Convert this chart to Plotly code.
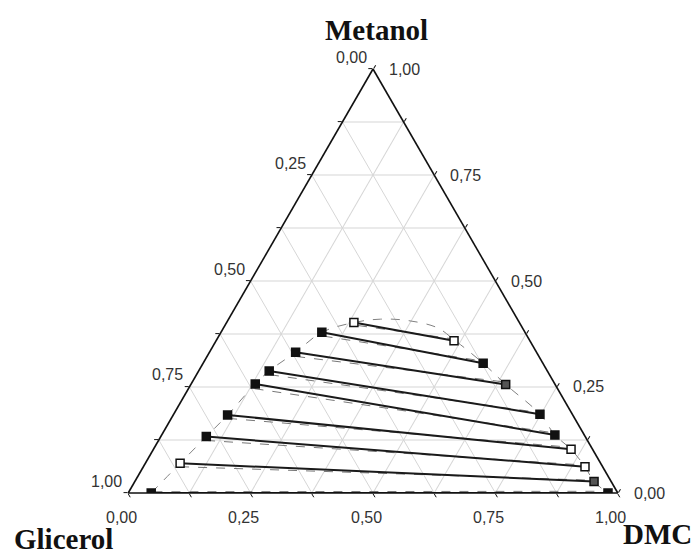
import plotly.graph_objects as go

# Experimental tie lines (mass fractions): Metanol, DMC (Glicerol = 1 - Metanol - DMC)
left_metanol = [0.000, 0.070, 0.133, 0.184, 0.257, 0.288, 0.332, 0.379, 0.402]
left_dmc = [0.047, 0.071, 0.093, 0.111, 0.131, 0.144, 0.176, 0.206, 0.260]
right_metanol = [0.000, 0.027, 0.062, 0.103, 0.137, 0.186, 0.256, 0.306, 0.359]
right_dmc = [0.980, 0.938, 0.902, 0.853, 0.803, 0.748, 0.643, 0.572, 0.486]
left_fill = ["f", "o", "f", "f", "f", "f", "f", "f", "o"]
right_fill = ["f", "h", "o", "o", "f", "f", "h", "f", "o"]

# Calculated tie lines (dashed)
calc_left_metanol = [0.003, 0.062, 0.124, 0.176, 0.246, 0.279, 0.322, 0.370, 0.395]
calc_left_dmc = [0.050, 0.075, 0.097, 0.116, 0.135, 0.150, 0.182, 0.214, 0.272]
calc_right_metanol = [0.004, 0.030, 0.066, 0.108, 0.142, 0.190, 0.262, 0.312, 0.364]
calc_right_dmc = [0.975, 0.935, 0.897, 0.848, 0.797, 0.742, 0.636, 0.563, 0.478]

# Binodal curve (dashed)
bin_metanol = [0.000, 0.070, 0.133, 0.184, 0.257, 0.288, 0.332, 0.379, 0.402, 0.410,
               0.407, 0.390, 0.362, 0.306, 0.256, 0.186, 0.137, 0.103, 0.062, 0.027, 0.000]
bin_dmc = [0.047, 0.071, 0.093, 0.111, 0.131, 0.144, 0.176, 0.206, 0.260, 0.310,
           0.366, 0.436, 0.484, 0.572, 0.643, 0.748, 0.803, 0.853, 0.902, 0.938, 0.980]

# Axis ticks
tick_vals = [0, 0.125, 0.25, 0.375, 0.5, 0.625, 0.75, 0.875, 1.0]
label_vals = [0.0, 0.25, 0.5, 0.75, 1.0]
label_text = ["0,00", "0,25", "0,50", "0,75", "1,00"]

fill_color = {"f": "#111111", "o": "#ffffff", "h": "#555555"}

W, H = 697, 554
DX0, DX1 = 128 / W, 618 / W
DY0, DY1 = 61 / H, 485 / H

fig = go.Figure()

# binodal
fig.add_trace(go.Scatterternary(
    a=bin_metanol, c=bin_dmc, b=[1 - m - d for m, d in zip(bin_metanol, bin_dmc)],
    mode="lines", line=dict(color="#808080", width=1, dash="dash", shape="spline"),
    hoverinfo="skip", showlegend=False))

# calculated tie lines
for i in range(len(calc_left_metanol)):
    a = [calc_left_metanol[i], calc_right_metanol[i]]
    c = [calc_left_dmc[i], calc_right_dmc[i]]
    b = [1 - x - y for x, y in zip(a, c)]
    fig.add_trace(go.Scatterternary(a=a, b=b, c=c, mode="lines",
                                    line=dict(color="#777777", width=1, dash="dash"),
                                    showlegend=False, hoverinfo="skip"))

# experimental tie lines
for i in range(len(left_metanol)):
    a = [left_metanol[i], right_metanol[i]]
    c = [left_dmc[i], right_dmc[i]]
    b = [1 - x - y for x, y in zip(a, c)]
    fig.add_trace(go.Scatterternary(
        a=a, b=b, c=c, mode="lines+markers",
        line=dict(color="#1a1a1a", width=2),
        marker=dict(symbol="square", size=8,
                    color=[fill_color[left_fill[i]], fill_color[right_fill[i]]],
                    line=dict(color="#111111", width=1.5)),
        showlegend=False))

axis_common = dict(
    tickvals=tick_vals, showticklabels=False,
    showgrid=True, gridcolor="#d6d6d6", gridwidth=1,
    linecolor="#111111", linewidth=1.6,
    ticks="outside", ticklen=4, tickcolor="#111111", tickwidth=1.2,
    title=dict(text=""), min=0,
)

fig.update_layout(
    width=W, height=H,
    margin=dict(l=0, r=0, t=0, b=0),
    paper_bgcolor="white",
    ternary=dict(
        domain=dict(x=[DX0, DX1], y=[DY0, DY1]),
        bgcolor="white",
        sum=1,
        aaxis=axis_common,
        baxis=axis_common,
        caxis=axis_common,
    ),
)


def to_paper(metanol, dmc):
    """Position of a composition inside the ternary domain, in paper units."""
    x = DX0 + (DX1 - DX0) * (dmc + 0.5 * metanol)
    y = DY0 + (DY1 - DY0) * metanol
    return x, y


tick_font = dict(family="Liberation Sans, Arial, sans-serif", size=16, color="#333333")
for v, t in zip(label_vals, label_text):
    # left edge: Glicerol fraction (0 at top, 1 at bottom-left)
    x, y = to_paper(1 - v, 0)
    fig.add_annotation(text=t, x=x, y=y, xref="paper", yref="paper", showarrow=False,
                       xanchor="right", yanchor="middle", xshift=-4, yshift=12, font=tick_font)
    # right edge: Metanol fraction (1 at top, 0 at bottom-right)
    x, y = to_paper(v, 1 - v)
    fig.add_annotation(text=t, x=x, y=y, xref="paper", yref="paper", showarrow=False,
                       xanchor="left", yanchor="middle", xshift=14, yshift=0, font=tick_font)
    # bottom edge: DMC fraction (0 at left, 1 at right)
    x, y = to_paper(0, v)
    fig.add_annotation(text=t, x=x, y=y, xref="paper", yref="paper", showarrow=False,
                       xanchor="center", yanchor="middle", xshift=-7, yshift=-24, font=tick_font)

title_font = dict(family="Liberation Serif, Times New Roman, serif", size=29, color="#111111")
fig.add_annotation(text="<b>Metanol</b>", x=376 / W, y=1 - 30 / H, xref="paper", yref="paper",
                   showarrow=False, font=title_font, xanchor="center", yanchor="middle")
fig.add_annotation(text="<b>Glicerol</b>", x=63 / W, y=1 - 539 / H, xref="paper", yref="paper",
                   showarrow=False, font=title_font, xanchor="center", yanchor="middle")
fig.add_annotation(text="<b>DMC</b>", x=657 / W, y=1 - 534 / H, xref="paper", yref="paper",
                   showarrow=False, font=title_font, xanchor="center", yanchor="middle")

fig.write_html("out.html")
